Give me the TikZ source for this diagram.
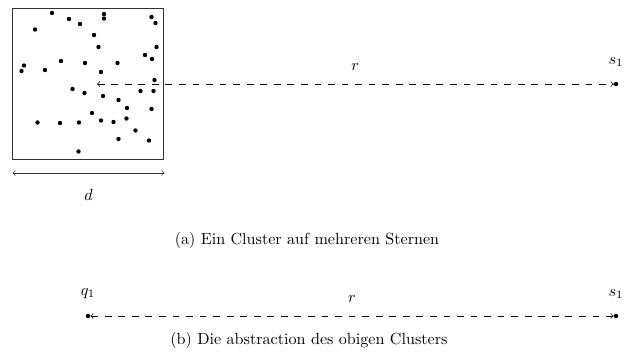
\documentclass[tikz,border=0pt]{standalone}
\begin{document}
\begin{tikzpicture}[x=0.62pt,y=-0.62pt,
  star/.style={circle,fill=black,inner sep=0pt,minimum size=2.7pt},
  dist/.style={dash pattern=on 4.2pt off 4.2pt,<->},
  lbl/.style={inner sep=0pt}]
\useasboundingbox (0,0) rectangle (636,360);
\node[draw,line width=0.7pt,draw=black!80,minimum width=151*0.62pt,minimum height=151*0.62pt,inner sep=0pt] (box) at (88.3,83.6) {};
\foreach \x/\y [count=\i] in {52/13,69/19,80/24,104/14,104/18.5,151.5/17,155.5/23,35/29.5,94/35,98.5/47,156.5/47,145/55,152/59,61/61,85/63,117.5/63,24/65.5,21.5/71,45/70,101/72,154.5/80,72.5/89,84.5/93,103/96,140.5/91,153.5/91,118.5/100,127/108,151.5/109,92/113,101/120.5,113.5/122,126.5/118.5,37.5/122.5,60/123,79/122.5,135.5/130.5,118.5/139,149/140.5,78.5/151.5}
  \node[star] (c\i) at (\x,\y) {};
\coordinate (ctr) at (97,84);
\node[star] (s1) at (616,84) {};
\node[lbl,anchor=south] (s1l) at (616,67) {$s_1$};
\draw[dist] (ctr) -- (s1) node[midway,above=5pt] (r1) {$r$};
\coordinate (dl) at (12.5,173);
\coordinate (dr) at (164.5,173);
\draw[<->,draw=black!80] (dl) -- (dr) node[midway,below=6.5pt] (d) {$d$};
\node (capa) at (307,240) {(a) Ein Cluster auf mehreren Sternen};
\node[star] (q1) at (88,316) {};
\node[lbl,anchor=south] (q1l) at (88,299) {$q_1$};
\node[star] (s2) at (616,316) {};
\node[lbl,anchor=south] (s2l) at (616,299) {$s_1$};
\draw[dist] (q1) -- (s2) node[midway,above=5pt] (r2) {$r$};
\node (capb) at (309,340) {(b) Die abstraction des obigen Clusters};
\end{tikzpicture}
\end{document}
